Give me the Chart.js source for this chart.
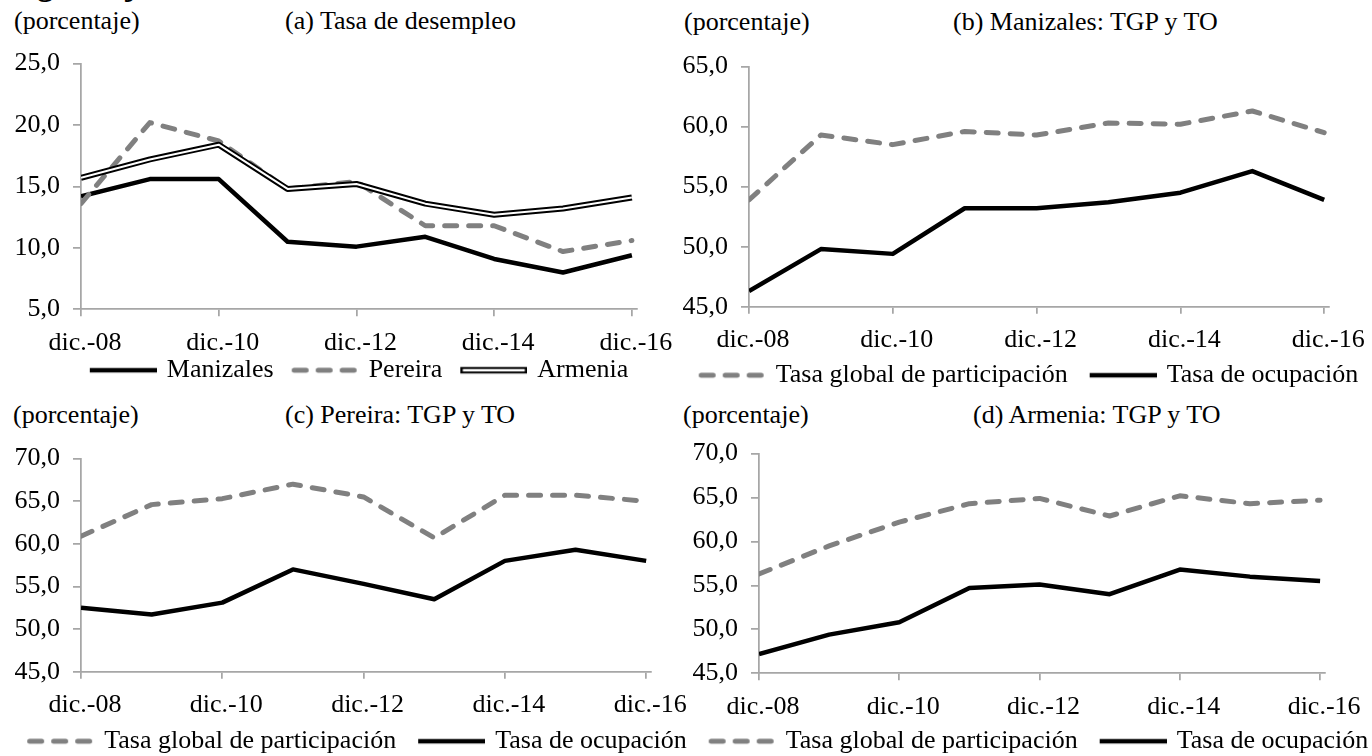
<!DOCTYPE html>
<html lang="es">
<head>
<meta charset="utf-8">
<title>Región Eje Cafetero: Indicadores del mercado laboral</title>
<script src="https://cdn.jsdelivr.net/npm/chart.js@4.4.1/dist/chart.umd.min.js"></script>
<style>
  html, body { margin: 0; padding: 0; background: #fff; overflow: hidden; }
  body { width: 1372px; height: 756px; position: relative; font-family: 'Liberation Serif', 'Times New Roman', serif; color: #000; }
  canvas { position: absolute; }
  .txt { position: absolute; font-size: 26px; line-height: 26px; white-space: nowrap; }
  #titulo { font-weight: bold; font-size: 32px; line-height: 32px; left: 0; top: -32px; }
</style>
</head>
<body>
<div id="titulo" class="txt">Región Eje Cafetero: Indicadores del mercado laboral</div>

<div class="txt" style="left:14px; top:8px">(porcentaje)</div>
<div class="txt" style="left:285px; top:8px">(a) Tasa de desempleo</div>
<div class="txt" style="left:684px; top:9px">(porcentaje)</div>
<div class="txt" style="left:953px; top:9px">(b) Manizales: TGP y TO</div>
<div class="txt" style="left:13px; top:402px">(porcentaje)</div>
<div class="txt" style="left:285px; top:402px">(c) Pereira: TGP y TO</div>
<div class="txt" style="left:683px; top:402px">(porcentaje)</div>
<div class="txt" style="left:973px; top:402px">(d) Armenia: TGP y TO</div>

<canvas id="graficoA"></canvas>
<canvas id="graficoB"></canvas>
<canvas id="graficoC"></canvas>
<canvas id="graficoD"></canvas>

<script>
// datos
const categorias = ['dic.-08', 'dic.-09', 'dic.-10', 'dic.-11', 'dic.-12', 'dic.-13', 'dic.-14', 'dic.-15', 'dic.-16'];

// (a) tasa de desempleo
const desempleoManizales = [14.2, 15.6, 15.6, 10.5, 10.1, 10.9, 9.1, 8.0, 9.4];
const desempleoPereira   = [13.6, 20.2, 18.7, 14.8, 15.4, 11.8, 11.8, 9.7, 10.6];
const desempleoArmenia   = [15.7, 17.2, 18.4, 14.8, 15.2, 13.6, 12.7, 13.2, 14.1];

// (b) Manizales
const tgpManizales = [53.9, 59.3, 58.5, 59.6, 59.3, 60.3, 60.2, 61.3, 59.5];
const toManizales  = [46.3, 49.8, 49.4, 53.2, 53.2, 53.7, 54.5, 56.3, 53.9];

// (c) Pereira
const tgpPereira = [60.9, 64.6, 65.3, 67.0, 65.5, 60.7, 65.7, 65.7, 65.0];
const toPereira  = [52.5, 51.7, 53.1, 57.0, 55.3, 53.5, 58.0, 59.3, 58.0];

// (d) Armenia
const tgpArmenia = [56.3, 59.5, 62.2, 64.3, 64.9, 62.9, 65.2, 64.3, 64.7];
const toArmenia  = [47.2, 49.4, 50.8, 54.7, 55.1, 54.0, 56.8, 56.0, 55.5];

const rangoA = [5, 25];
const rangoB = [45, 65];
const rangoCD = [45, 70];

Chart.defaults.font.family = "'Liberation Serif', 'Times New Roman', serif";
Chart.defaults.font.size = 26;
Chart.defaults.color = '#000';
Chart.defaults.animation = false;

const GRIS = '#808080';
const EJE = '#a6a6a6';
const LARGO = 67;   // largo de la muestra en la leyenda

// muestra de línea para la leyenda; 'hueco' deja espacio antes de cada entrada
function muestra(tipo, hueco) {
  const c = document.createElement('canvas');
  c.width = hueco + 64 + 6; c.height = 12;
  const g = c.getContext('2d');
  const x0 = hueco + 3, x1 = x0 + LARGO;
  function raya(color, w, a, b, dash, cap) {
    g.beginPath();
    g.strokeStyle = color; g.lineWidth = w;
    g.lineCap = cap || 'butt';
    g.setLineDash(dash || []);
    g.moveTo(a, 6); g.lineTo(b, 6);
    g.stroke();
  }
  if (tipo === 'solida') raya('#000', 4.5, x0, x1);
  if (tipo === 'guiones') raya(GRIS, 5, x0 + 2.5, x1 - 2.5, [12, 12], 'round');
  if (tipo === 'doble') { raya('#000', 6.5, x0, x1); raya('#fff', 2.5, x0 + 2.5, x1 - 2.5); }
  return c;
}

function serie(valores, color, ancho, guiones) {
  return {
    data: valores.map((v, i) => ({ x: i, y: v })),
    borderColor: color,
    borderWidth: ancho,
    borderDash: guiones ? [12, 12] : [],
    borderCapStyle: guiones ? 'round' : 'butt',
    borderJoinStyle: 'round',
    pointRadius: 0,
    tension: 0,
    fill: false
  };
}

function panel(id, marco, rangoY, series, leyenda) {
  const lienzo = document.getElementById(id);
  const pad = 2;
  const arriba = Math.floor(marco.plotTop - 20);
  const legTop = marco.legendMid - pad - 13;
  const legAlto = 26 + pad + 10;
  const alto = Math.ceil(legTop + legAlto - arriba);
  // el hueco inicial desplaza la leyenda; se compensa con el ancho del lienzo
  const ancho = Math.round(2 * (marco.legendCenter - marco.left) - marco.hueco);
  lienzo.width = ancho;
  lienzo.height = alto;
  lienzo.style.left = marco.left + 'px';
  lienzo.style.top = arriba + 'px';

  const rejilla = { drawOnChartArea: false, color: EJE, lineWidth: 1.75 };
  const borde = { color: EJE, width: 1.75 };

  return new Chart(lienzo, {
    type: 'line',
    data: { datasets: series },
    options: {
      responsive: false,
      devicePixelRatio: 1,
      animation: false,
      events: [],
      layout: {
        padding: {
          top: marco.plotTop - arriba,
          bottom: arriba + alto - legTop - legAlto,
          left: 0,
          right: 0
        }
      },
      plugins: {
        tooltip: { enabled: false },
        legend: {
          position: 'bottom',
          labels: {
            usePointStyle: true,
            pointStyleWidth: marco.hueco + 64,
            padding: pad,
            color: '#000',
            generateLabels: () => leyenda.map(l => ({
              text: l.texto,
              pointStyle: muestra(l.tipo, marco.hueco),
              fillStyle: 'transparent',
              strokeStyle: 'transparent',
              lineWidth: 0,
              hidden: false
            }))
          }
        }
      },
      scales: {
        x: {
          type: 'linear',
          min: 0,
          max: 8.07,
          afterFit: s => { s.height = legTop - marco.plotBottom; },
          grid: { ...rejilla, tickLength: 7 },
          border: borde,
          ticks: {
            stepSize: 2,
            includeBounds: false,
            autoSkip: false,
            maxRotation: 0,
            padding: 11,
            labelOffset: 4,
            callback: v => categorias[v] || ''
          }
        },
        y: {
          min: rangoY[0],
          max: rangoY[1],
          afterFit: s => { s.width = marco.axisX - marco.left; },
          grid: { ...rejilla, tickLength: 8 },
          border: borde,
          ticks: {
            stepSize: 5,
            padding: 13,
            callback: v => v.toFixed(1).replace('.', ',')
          }
        },
        relleno: {
          type: 'linear',
          position: 'right',
          afterFit: s => { s.width = marco.left + ancho - marco.plotRight; },
          grid: { display: false },
          border: { display: false },
          ticks: { display: false }
        }
      }
    }
  });
}

const leyendaTasas = [
  { texto: 'Tasa global de participación', tipo: 'guiones' },
  { texto: 'Tasa de ocupación', tipo: 'solida' }
];

// (a) — el primer dataset queda encima
panel('graficoA',
  { left: 0, axisX: 81, plotTop: 55, plotBottom: 309.3, plotRight: 636.7, legendMid: 370.2, legendCenter: 359, hueco: 16 },
  rangoA,
  [
    serie(desempleoArmenia, '#fff', 2),
    serie(desempleoArmenia, '#000', 6),
    serie(desempleoPereira, GRIS, 5, true),
    serie(desempleoManizales, '#000', 4.5)
  ],
  [
    { texto: 'Manizales', tipo: 'solida' },
    { texto: 'Pereira', tipo: 'guiones' },
    { texto: 'Armenia', tipo: 'doble' }
  ]);

panel('graficoB',
  { left: 665, axisX: 749, plotTop: 58.3, plotBottom: 306.7, plotRight: 1331.7, legendMid: 375.2, legendCenter: 1028.5, hueco: 20 },
  rangoB,
  [serie(tgpManizales, GRIS, 5, true), serie(toManizales, '#000', 4.5)],
  leyendaTasas);

panel('graficoC',
  { left: 0, axisX: 81, plotTop: 450, plotBottom: 671.7, plotRight: 652.7, legendMid: 741.2, legendCenter: 357, hueco: 20 },
  rangoCD,
  [serie(tgpPereira, GRIS, 5, true), serie(toPereira, '#000', 4.5)],
  leyendaTasas);

panel('graficoD',
  { left: 685, axisX: 759, plotTop: 445.7, plotBottom: 673.3, plotRight: 1325, legendMid: 741.2, legendCenter: 1038.5, hueco: 20 },
  rangoCD,
  [serie(tgpArmenia, GRIS, 5, true), serie(toArmenia, '#000', 4.5)],
  leyendaTasas);
</script>
</body>
</html>
